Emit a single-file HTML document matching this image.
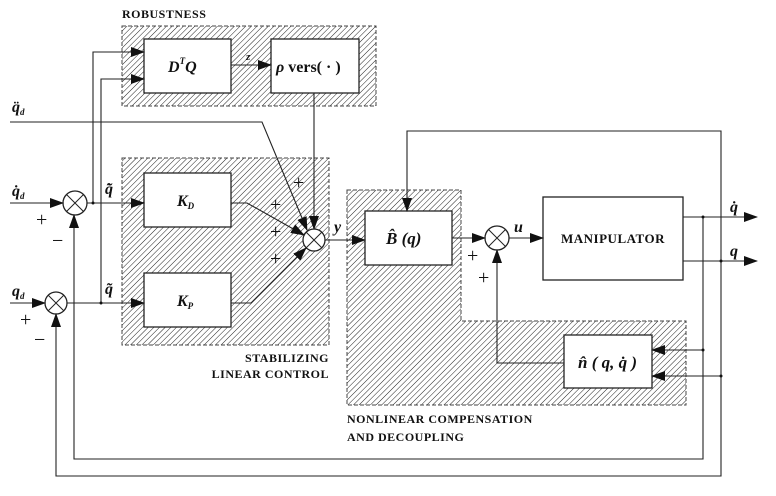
<!DOCTYPE html>
<html><head><meta charset="utf-8"><style>
body{margin:0;background:#fff}
svg{display:block}
text{font-family:"Liberation Serif",serif;fill:#111}
.b{font-weight:bold;font-size:12px;letter-spacing:0.5px}
.m{font-style:italic;font-weight:bold;font-size:16px}
.p{font-size:20px}
</style></head><body>
<svg width="776" height="496" viewBox="0 0 776 496" xmlns="http://www.w3.org/2000/svg">
<defs>
<pattern id="h" width="4" height="4" patternUnits="userSpaceOnUse" patternTransform="rotate(45)">
<line x1="0" y1="0" x2="0" y2="4" stroke="#222" stroke-width="1"/>
</pattern>
<marker id="a" markerWidth="14" markerHeight="10" refX="13" refY="5" orient="auto" markerUnits="userSpaceOnUse">
<path d="M0,0 L14,5 L0,10 z" fill="#111"/>
</marker>
</defs>
<g stroke="#444" stroke-dasharray="4,2" fill="url(#h)">
<rect x="122" y="26" width="254" height="80"/>
<rect x="122" y="158" width="207" height="187"/>
<path d="M347,190 H461 V321 H686 V405 H347 Z"/>
</g>
<g stroke="#222" stroke-width="1.3" fill="#fff">
<rect x="144" y="39" width="87" height="54"/>
<rect x="271" y="39" width="88" height="54"/>
<rect x="144" y="173" width="87" height="54"/>
<rect x="144" y="273" width="87" height="54"/>
<rect x="365" y="211" width="87" height="54"/>
<rect x="543" y="197" width="140" height="83"/>
<rect x="564" y="335" width="88" height="53"/>
<circle cx="75" cy="203" r="12"/>
<circle cx="56" cy="303" r="11"/>
<circle cx="314" cy="240" r="11"/>
<circle cx="497" cy="238" r="12"/>
</g>
<g stroke="#222" stroke-width="1">
<path d="M66.5,194.5 L83.5,211.5 M83.5,194.5 L66.5,211.5"/>
<path d="M48,295 L64,311 M64,295 L48,311"/>
<path d="M306,232 L322,248 M322,232 L306,248"/>
<path d="M488.5,229.5 L505.5,246.5 M505.5,229.5 L488.5,246.5"/>
</g>
<g stroke="#222" stroke-width="1.1" fill="none">
<line x1="10" y1="203" x2="63" y2="203" marker-end="url(#a)"/>
<line x1="87" y1="203" x2="144" y2="203" marker-end="url(#a)"/>
<line x1="10" y1="303" x2="45" y2="303" marker-end="url(#a)"/>
<line x1="67" y1="303" x2="144" y2="303" marker-end="url(#a)"/>
<polyline points="93,203 93,52 144,52" marker-end="url(#a)"/>
<polyline points="101,303 101,79 144,79" marker-end="url(#a)"/>
<line x1="231" y1="65" x2="271" y2="65" marker-end="url(#a)"/>
<polyline points="10,122 262,122 307,230" marker-end="url(#a)"/>
<line x1="314" y1="93" x2="314" y2="229" marker-end="url(#a)"/>
<polyline points="231,203 247,203 304,235" marker-end="url(#a)"/>
<polyline points="231,303 251,303 306,248" marker-end="url(#a)"/>
<line x1="325" y1="240" x2="365" y2="240" marker-end="url(#a)"/>
<line x1="452" y1="238" x2="485" y2="238" marker-end="url(#a)"/>
<line x1="509" y1="238" x2="543" y2="238" marker-end="url(#a)"/>
<line x1="683" y1="217" x2="757" y2="217" marker-end="url(#a)"/>
<line x1="683" y1="261" x2="757" y2="261" marker-end="url(#a)"/>
<polyline points="703,217 703,459 74,459 74,215" marker-end="url(#a)"/>
<polyline points="721,261 721,476 56,476 56,314" marker-end="url(#a)"/>
<polyline points="721,261 721,131 407,131 407,211" marker-end="url(#a)"/>
<polyline points="703,350 652,350" marker-end="url(#a)"/>
<polyline points="721,376 652,376" marker-end="url(#a)"/>
<polyline points="564,363 497,363 497,250" marker-end="url(#a)"/>
</g>
<g fill="#111">
<circle cx="93" cy="203" r="1.5"/><circle cx="101" cy="303" r="1.5"/>
<circle cx="703" cy="217" r="1.5"/><circle cx="721" cy="261" r="1.5"/>
<circle cx="703" cy="350" r="1.5"/><circle cx="721" cy="376" r="1.5"/>
</g>
<text class="b" x="122" y="18">ROBUSTNESS</text>
<text class="b" x="329" y="362" text-anchor="end">STABILIZING</text>
<text class="b" x="329" y="378" text-anchor="end">LINEAR CONTROL</text>
<text class="b" x="347" y="423">NONLINEAR COMPENSATION</text>
<text class="b" x="347" y="441">AND DECOUPLING</text>
<text class="b" x="613" y="243" text-anchor="middle" style="font-size:13px">MANIPULATOR</text>
<text class="m" x="168" y="72">D<tspan font-size="9" dy="-8">T</tspan><tspan dy="8">Q</tspan></text>
<text class="m" x="276" y="72" style="font-style:normal"><tspan font-style="italic">ρ</tspan> vers( · )</text>
<text class="m" x="177" y="206">K<tspan font-size="9" dy="3">D</tspan></text>
<text class="m" x="177" y="306">K<tspan font-size="9" dy="3">P</tspan></text>
<text class="m" x="386" y="244" style="font-size:17px">B̂ (q)</text>
<text class="m" x="578" y="368" style="font-size:17px">n̂ ( q, q̇ )</text>
<text class="m" x="246" y="60" style="font-size:11px">z</text>
<text class="m" x="334" y="232">y</text>
<text class="m" x="514" y="232">u</text>
<text class="m" x="730" y="212">q̇</text>
<text class="m" x="730" y="256">q</text>
<text class="m" x="12" y="112">q̈<tspan font-size="9" dy="3">d</tspan></text>
<text class="m" x="12" y="196">q̇<tspan font-size="9" dy="3">d</tspan></text>
<text class="m" x="12" y="296">q<tspan font-size="9" dy="3">d</tspan></text>
<text class="m" x="105" y="194">q̃̇</text>
<text class="m" x="105" y="294">q̃</text>
<text class="p" x="36" y="226">+</text>
<text class="p" x="52" y="247">−</text>
<text class="p" x="20" y="326">+</text>
<text class="p" x="34" y="346">−</text>
<text class="p" x="293" y="189">+</text>
<text class="p" x="270" y="211">+</text>
<text class="p" x="270" y="238">+</text>
<text class="p" x="270" y="265">+</text>
<text class="p" x="467" y="262">+</text>
<text class="p" x="478" y="284">+</text>
</svg>
</body></html>
